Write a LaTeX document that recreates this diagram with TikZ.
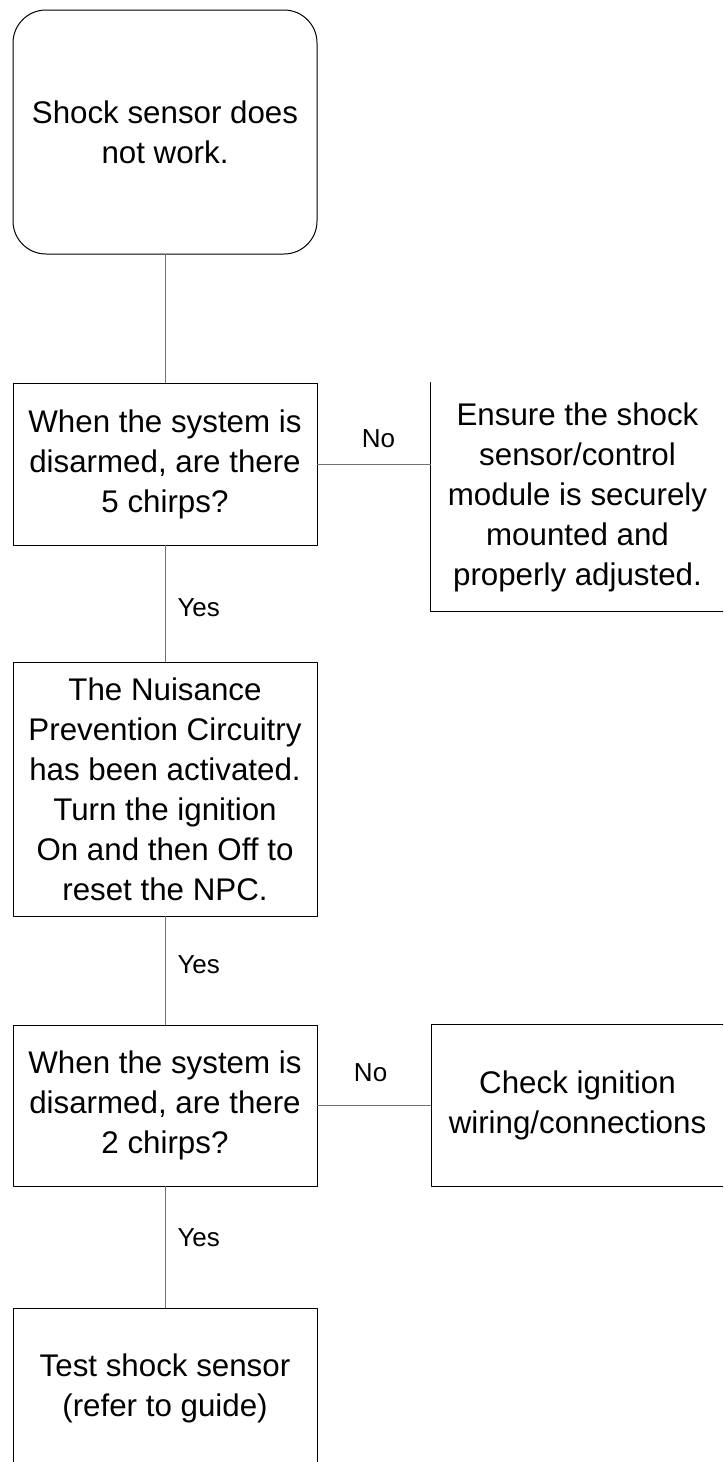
\documentclass[tikz,border=0pt]{standalone}
\usepackage{fontspec}
\setmainfont{Liberation Sans}
\usetikzlibrary{positioning}

\begin{document}
\begin{tikzpicture}[line cap=round,line join=round,x=1pt,y=-1pt,
		box/.style={draw=black,line width=1pt,align=center,inner sep=0pt,minimum width=304pt,font=\fontsize{31.3}{40}\selectfont},
		sidebox/.style={line width=1pt,align=center,inner sep=0pt,minimum width=293pt,font=\fontsize{31.3}{40}\selectfont},
		link/.style={line width=1pt,color=black!55},
		lbl/.style={inner sep=0pt,text=black,font=\fontsize{26}{30}\selectfont}]
		\useasboundingbox (0,0) rectangle (723,1462);
		\clip (0,0) rectangle (723,1462);
		\node [box,rounded corners=33pt,minimum height=244pt] (start) at (165,132) {Shock sensor does\\not work.};
		\node [box,minimum height=162pt] (chirps5) at (165,464) {When the system is\\disarmed, are there\\5 chirps?};
		\node [sidebox,minimum height=228pt] (ensure) at (577.5,497) {Ensure the shock\\sensor/control\\module is securely\\mounted and\\properly adjusted.};
		\node [box,minimum height=254pt] (npc) at (165,789) {The Nuisance\\Prevention Circuitry\\has been activated.\\Turn the ignition\\On and then Off to\\reset the NPC.};
		\node [box,minimum height=161pt] (chirps2) at (165,1105.5) {When the system is\\disarmed, are there\\2 chirps?};
		\node [sidebox,draw=black,minimum height=162pt] (ignition) at (577.5,1105) {Check ignition\\wiring/connections};
		\node [box,minimum height=161pt] (test) at (165,1388.5) {Test shock sensor\\(refer to guide)};
		\draw [line width=1pt] (ensure.north west)--(ensure.south west)--(ensure.south east);
		\draw [link] (start)--(chirps5);
		\draw [link] (chirps5.east)-- node[lbl,above=16pt,pos=0.54] {No} (chirps5.east -| ensure.west);
		\draw [link] (chirps5)-- node[lbl,right=12pt,pos=0.54] {Yes} (npc);
		\draw [link] (npc)-- node[lbl,right=12pt,pos=0.45] {Yes} (chirps2);
		\draw [link] (chirps2.east)-- node[lbl,above=23pt,pos=0.47] {No} (chirps2.east -| ignition.west);
		\draw [link] (chirps2)-- node[lbl,right=12pt,pos=0.42] {Yes} (test);
	\end{tikzpicture}
\end{document}
